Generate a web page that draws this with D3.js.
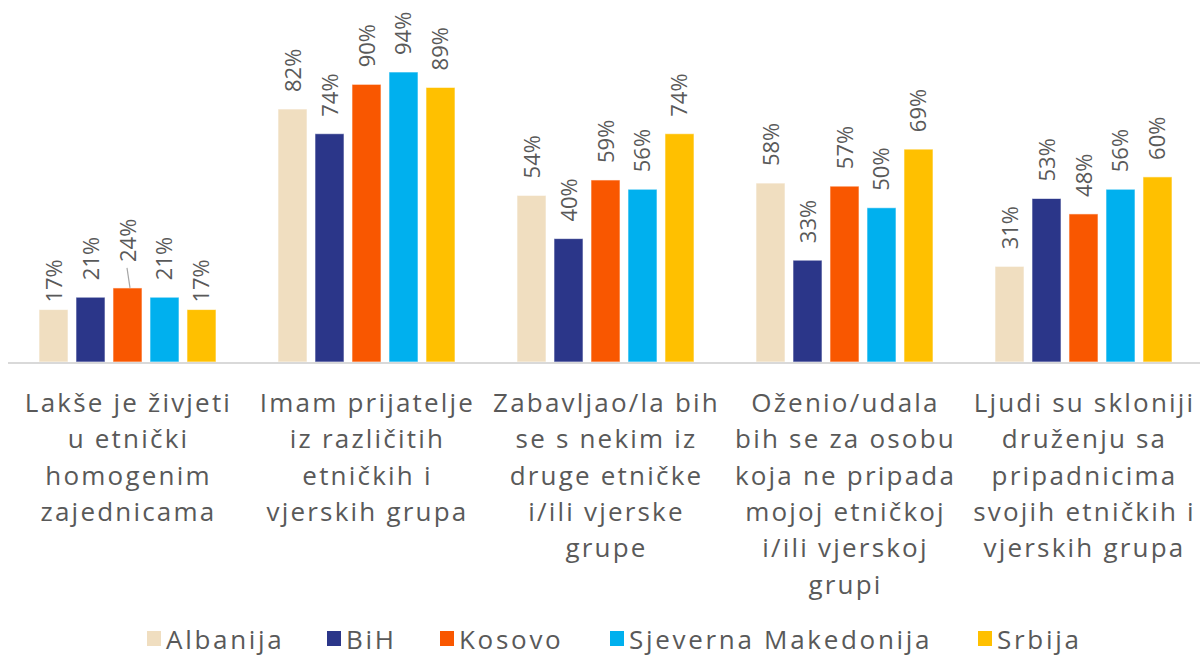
<!DOCTYPE html>
<html lang="bs">
<head>
<meta charset="utf-8">
<script src="https://d3js.org/d3.v7.min.js"></script>
<style>
  html, body { margin: 0; padding: 0; background: #fff; }
  svg text { font-family: "Open Sans", "DejaVu Sans", sans-serif; fill: #595959; }
</style>
</head>
<body>
<script>
  var width = 1200,
      height = 656;

  // data
  var categories = [
    ["Lakše je živjeti", "u etnički", "homogenim", "zajednicama"],
    ["Imam prijatelje", "iz različitih", "etničkih i", "vjerskih grupa"],
    ["Zabavljao/la bih", "se s nekim iz", "druge etničke", "i/ili vjerske", "grupe"],
    ["Oženio/udala", "bih se za osobu", "koja ne pripada", "mojoj etničkoj", "i/ili vjerskoj", "grupi"],
    ["Ljudi su skloniji", "druženju sa", "pripadnicima", "svojih etničkih i", "vjerskih grupa"]
  ];
  var series = ["Albanija", "BiH", "Kosovo", "Sjeverna Makedonija", "Srbija"];
  var albanija = [17, 82, 54, 58, 31];
  var bih      = [21, 74, 40, 33, 53];
  var kosovo   = [24, 90, 59, 57, 48];
  var makedonija = [21, 94, 56, 50, 56];
  var srbija   = [17, 89, 74, 69, 60];
  var colors = ["#F0DEC0", "#2B3689", "#F95700", "#00B0EE", "#FFC000"];

  var values = [albanija, bih, kosovo, makedonija, srbija];
  var rows = [];
  categories.forEach(function(c, i) {
    series.forEach(function(s, j) {
      rows.push({ cat: i, series: s, value: values[j][i] });
    });
  });

  var svg = d3.select('body')
    .append('svg')
    .attr('width', width)
    .attr('height', height);

  var baseline = 362;

  var x0 = d3.scaleBand()
    .domain(d3.range(categories.length))
    .range([8, 1203]);

  var x1 = d3.scaleBand()
    .domain(series)
    .range([31, x0.bandwidth() - 31])
    .paddingInner(0.216);

  var y = d3.scaleLinear()
    .domain([0, 100])
    .range([baseline, baseline - 308.5]);

  var color = d3.scaleOrdinal().domain(series).range(colors);

  function cx(d) { return x0(d.cat) + x1(d.series) + x1.bandwidth() / 2; }

  // bars
  svg.append('g').selectAll('rect')
    .data(rows)
    .join('rect')
    .attr('x', function(d) { return x0(d.cat) + x1(d.series); })
    .attr('width', x1.bandwidth())
    .attr('y', function(d) { return y(d.value); })
    .attr('height', function(d) { return baseline - y(d.value); })
    .attr('fill', function(d) { return color(d.series); })
    .attr('stroke', '#fff')
    .attr('stroke-opacity', 0.6)
    .attr('stroke-width', 1);

  // axis line
  svg.append('line')
    .attr('x1', 8).attr('x2', 1200)
    .attr('y1', baseline + 1).attr('y2', baseline + 1)
    .attr('stroke', '#D9D9D9')
    .attr('stroke-width', 2);

  // value labels; in the original a few labels of the first group were moved by hand
  var gap = 17;
  function shift(d) {
    if (d.cat === 0 && (d.series === 'Albanija' || d.series === 'Srbija')) return -10;
    if (d.cat === 0 && d.series === 'Kosovo') return 9;
    return 0;
  }

  var labels = svg.append('g');
  labels.selectAll('text')
    .data(rows)
    .join('text')
    .attr('transform', function(d) {
      return 'translate(' + (cx(d) + 8) + ',' + (y(d.value) - gap - shift(d)) + ') rotate(-90)';
    })
    .attr('font-size', 22)
    .text(function(d) { return d.value + '%'; });

  // leader line for the moved 24% label
  labels.selectAll('line')
    .data(rows.filter(function(d) { return shift(d) > 0; }))
    .join('line')
    .attr('x1', function(d) { return cx(d) - 0.5; })
    .attr('x2', function(d) { return cx(d) + 2.5; })
    .attr('y1', function(d) { return y(d.value) - 20; })
    .attr('y2', function(d) { return y(d.value); })
    .attr('stroke', '#A6A6A6')
    .attr('stroke-width', 1.2);

  // category labels
  var catText = svg.append('g').selectAll('text')
    .data(categories)
    .join('text')
    .attr('text-anchor', 'middle')
    .attr('font-size', 26)
    .attr('letter-spacing', 2.2)
    .attr('x', function(d, i) { return x0(i) + x0.bandwidth() / 2 + 1; })
    .attr('y', 412);

  catText.selectAll('tspan')
    .data(function(d) { return d; })
    .join('tspan')
    .attr('x', function() { return d3.select(this.parentNode).attr('x'); })
    .attr('dy', function(d, i) { return i === 0 ? 0 : 36.3; })
    .text(function(d) { return d; });

  // legend
  var legendX = [147, 327, 440, 610, 978];
  var legend = svg.append('g').selectAll('g')
    .data(series)
    .join('g')
    .attr('transform', function(d, i) { return 'translate(' + legendX[i] + ',631)'; });

  legend.append('rect')
    .attr('width', 14).attr('height', 15)
    .attr('fill', function(d) { return color(d); });

  legend.append('text')
    .attr('x', 19).attr('y', 18)
    .attr('font-size', 26)
    .attr('letter-spacing', 2.7)
    .text(function(d) { return d; });

  console.log('ready..');
</script>
</body>
</html>
